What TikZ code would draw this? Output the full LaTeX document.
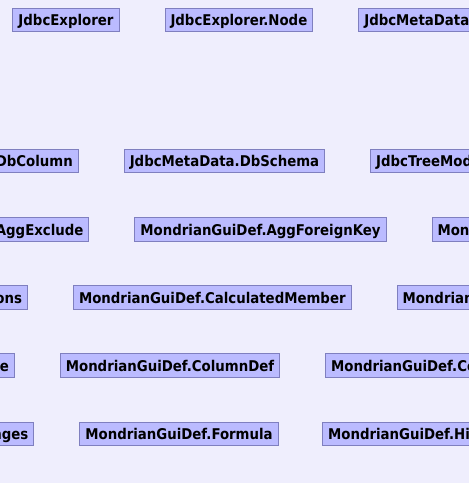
\documentclass[tikz,border=0pt]{standalone}
\usepackage{fontspec}
\newfontfamily\clsfont{DejaVu Sans Condensed Bold}
\usepackage{tikz}
\usetikzlibrary{positioning}
\definecolor{canvas}{HTML}{EFEEFD}
\definecolor{clsfill}{HTML}{BBBBFF}
\definecolor{clsline}{HTML}{7F7FBF}

\begin{document}
\begin{tikzpicture}[x=1bp, y=-1bp,
    node distance=45bp,
    cls/.style={draw=clsline, fill=clsfill, line width=1bp,
      font=\clsfont\fontsize{14.8bp}{16bp}\selectfont,
      text height=12.5bp, text depth=1bp,
      inner xsep=5.5bp, inner ysep=0pt, minimum height=23.5bp},
    cutleft/.style={cls, text width=8cm, align=right},
    cutright/.style={cls, text width=8cm, align=left},
  ]
    \useasboundingbox (0, 0) rectangle (469, 483);
    \fill[canvas] (0, 0) rectangle (469, 483);
    \clip (0, 0) rectangle (469, 483);

    \node[cls] (jexp) at (66, 20) {JdbcExplorer};
    \node[cls, right=of jexp] (jexpnode) {JdbcExplorer.Node};
    \node[cutright, right=of jexpnode] (jmeta) {JdbcMetaData};

    \node[cls] (dbschema) at (224.5, 161) {JdbcMetaData.DbSchema};
    \node[cutleft, left=of dbschema] (dbcolumn) {DbColumn};
    \node[cutright, right=of dbschema] (treemodel) {JdbcTreeMod};

    \node[cls] (aggfk) at (260.5, 229.5) {MondrianGuiDef.AggForeignKey};
    \node[cutleft, left=of aggfk] (aggexcl) {AggExclude};
    \node[cutright, right=of aggfk] (aggnext) {Mon};

    \node[cls] (calcmem) at (212.3, 297.7) {MondrianGuiDef.CalculatedMember};
    \node[cutleft, left=of calcmem] (calcprev) {ons};
    \node[cutright, right=of calcmem] (calcnext) {Mondrian};

    \node[cls] (coldef) at (170, 365.7) {MondrianGuiDef.ColumnDef};
    \node[cutleft, left=of coldef] (colprev) {e};
    \node[cutright, right=of coldef] (colnext) {MondrianGuiDef.Co};

    \node[cls] (formula) at (179, 434) {MondrianGuiDef.Formula};
    \node[cutleft, left=of formula] (formprev) {nges};
    \node[cutright, right=of formula, xshift=-1.5bp] (formnext) {MondrianGuiDef.Hi};
\end{tikzpicture}
\end{document}
